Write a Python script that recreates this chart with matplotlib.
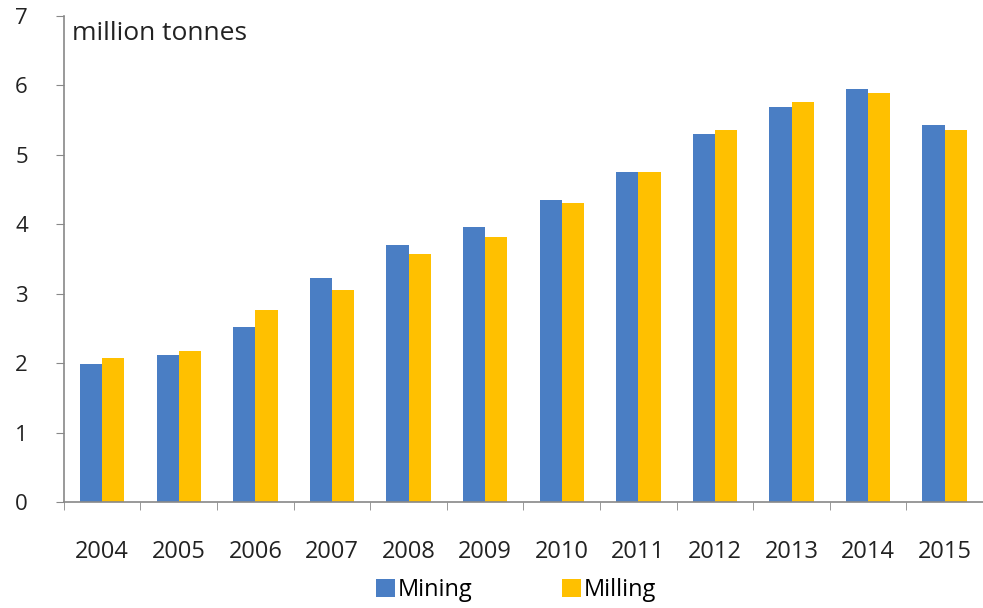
import matplotlib
matplotlib.use('Agg')
import matplotlib.pyplot as plt
import numpy as np

years = ['2004', '2005', '2006', '2007', '2008', '2009',
         '2010', '2011', '2012', '2013', '2014', '2015']
mining = [1.99, 2.12, 2.52, 3.23, 3.70, 3.96, 4.35, 4.75, 5.30, 5.69, 5.95, 5.43]
milling = [2.07, 2.18, 2.77, 3.05, 3.57, 3.82, 4.31, 4.75, 5.35, 5.76, 5.89, 5.35]

plt.rcParams['font.family'] = ['Open Sans', 'DejaVu Sans']

fig = plt.figure(figsize=(9.83, 6.08), dpi=100)
ax = fig.add_axes([0.065, 0.174, 0.935, 0.80])

x = np.arange(len(years))
w = 0.29
ax.bar(x - w / 2, mining, w, color='#4A7EC4', label='Mining')
ax.bar(x + w / 2, milling, w, color='#FFC000', label='Milling')

ax.set_xlim(-0.5, len(years) - 0.5)
ax.set_ylim(0, 7)
ax.set_yticks(range(0, 8))
ax.tick_params(axis='y', labelsize=16, length=6, color='#888888', pad=20,
               labelcolor='#222222')
# category labels centred, tick marks on the boundaries
ax.set_xticks(x)
ax.set_xticklabels(years)
ax.set_xticks(np.arange(-0.5, len(years)), minor=True)
ax.tick_params(axis='x', which='major', length=0, labelsize=17, pad=27,
               labelcolor='#222222')
ax.tick_params(axis='x', which='minor', length=6, color='#888888')

for s in ['top', 'right']:
    ax.spines[s].set_visible(False)
for s in ['left', 'bottom']:
    ax.spines[s].set_color('#888888')
    ax.spines[s].set_linewidth(1.2)

ax.text(0.009, 0.99, 'million tonnes', transform=ax.transAxes, fontsize=19,
        color='#222222', va='top', ha='left')

fig.legend(loc='lower center', bbox_to_anchor=(0.525, -0.025), ncol=2,
           frameon=False, fontsize=17, handlelength=0.8, handleheight=0.8,
           handletextpad=0.1, columnspacing=3.8)

fig.savefig('out.png', dpi=100)
